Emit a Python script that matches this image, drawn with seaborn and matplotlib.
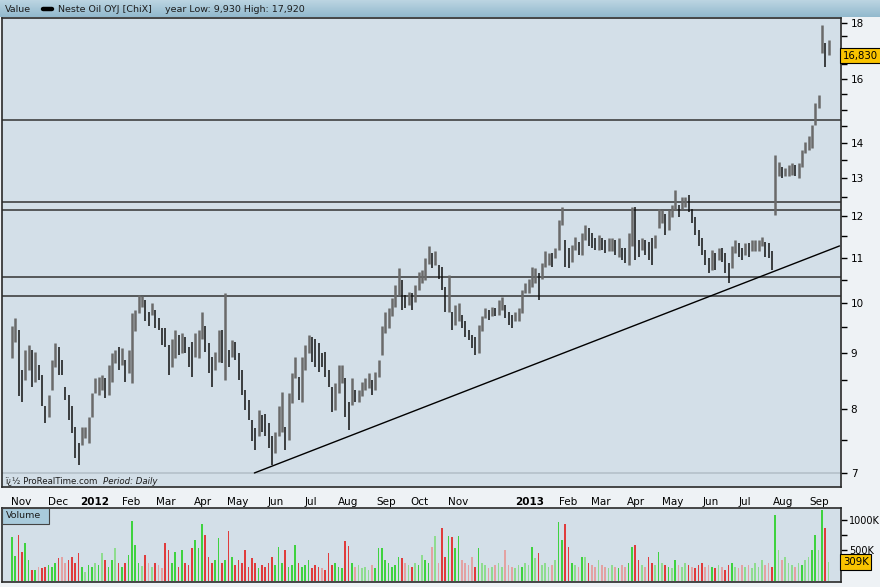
import numpy as np
import pandas as pd
import matplotlib
matplotlib.use("Agg")
import matplotlib.pyplot as plt
import seaborn as sns
from matplotlib.ticker import FixedLocator, NullFormatter, FixedFormatter
from matplotlib.patches import Rectangle
from matplotlib.colors import LinearSegmentedColormap

# ---------------- data (2-trading-day bars) ----------------
bar_high = [
    9.52, 9.68, 9.45, 8.69, 9.06, 9.16, 9.06, 9.03, 8.78, 8.60,
    8.05, 8.25, 8.87, 9.19, 9.12, 8.87, 8.39, 8.25, 8.05, 7.71,
    7.45, 7.71, 7.71, 7.88, 8.27, 8.54, 8.57, 8.60, 8.54, 8.78,
    9.00, 9.06, 9.12, 9.09, 8.87, 9.06, 9.79, 9.85, 10.17, 10.15,
    10.06, 9.82, 10.00, 9.85, 9.68, 9.48, 9.48, 9.16, 9.28, 9.45,
    9.35, 9.38, 9.32, 9.12, 9.22, 9.38, 9.45, 9.82, 9.52, 9.19,
    8.93, 9.03, 9.45, 9.45, 10.21, 9.06, 9.25, 9.22, 9.00, 8.69,
    8.33, 8.16, 7.82, 7.69, 7.99, 7.90, 7.93, 7.77, 7.56, 7.63,
    8.05, 8.30, 7.71, 8.27, 8.63, 8.93, 8.57, 8.93, 9.16, 9.35,
    9.32, 9.28, 9.19, 9.00, 9.03, 8.69, 8.39, 8.45, 8.78, 8.78,
    8.54, 8.13, 8.54, 8.33, 8.33, 8.48, 8.54, 8.63, 8.51, 8.66,
    8.87, 9.52, 9.82, 9.89, 10.10, 10.38, 10.76, 10.49, 10.17, 10.24,
    10.21, 10.38, 10.68, 10.72, 10.98, 11.26, 11.10, 11.14, 10.83, 10.79,
    10.35, 10.60, 9.82, 9.96, 9.99, 9.75, 9.62, 9.45, 9.35, 9.32,
    9.55, 9.72, 9.89, 9.85, 9.92, 9.89, 10.06, 10.13, 9.96, 9.82,
    9.75, 9.82, 9.89, 10.28, 10.42, 10.52, 10.79, 10.76, 10.65, 10.87,
    11.14, 11.10, 11.10, 11.22, 11.90, 12.24, 11.41, 11.22, 11.29, 11.49,
    11.37, 11.58, 11.78, 11.70, 11.58, 11.45, 11.53, 11.45, 11.41, 11.45,
    11.45, 11.41, 11.45, 11.22, 11.22, 11.58, 12.24, 12.24, 11.41, 11.45,
    11.41, 11.37, 11.45, 11.53, 12.19, 12.15, 12.06, 12.15, 12.28, 12.67,
    12.28, 12.50, 12.50, 12.54, 12.19, 11.98, 11.66, 11.45, 11.18, 10.98,
    11.18, 11.10, 11.22, 11.22, 11.10, 10.87, 11.26, 11.41, 11.33, 11.22,
    11.33, 11.33, 11.41, 11.41, 11.41, 11.49, 11.37, 11.33, 11.14, 13.64,
    13.45, 13.31, 13.27, 13.36, 13.41, 13.36, 13.41, 13.78, 14.03, 14.18,
    14.53, 15.20, 15.47, 17.92, 17.25, 17.36,
]
bar_low = [
    8.90, 9.22, 8.22, 8.13, 8.51, 8.69, 8.39, 8.48, 8.51, 8.05,
    7.77, 7.88, 8.33, 8.75, 8.60, 8.60, 8.16, 7.82, 7.61, 7.22,
    7.12, 7.43, 7.53, 7.45, 7.88, 8.27, 8.25, 8.33, 8.19, 8.25,
    8.48, 8.81, 8.69, 8.78, 8.48, 8.63, 8.45, 9.42, 9.79, 9.92,
    9.62, 9.52, 9.75, 9.48, 9.45, 9.16, 9.12, 8.60, 8.75, 8.90,
    8.97, 9.00, 9.00, 8.75, 8.57, 8.93, 8.90, 9.28, 9.03, 8.63,
    8.39, 8.69, 8.84, 8.81, 8.51, 8.75, 8.93, 8.87, 8.51, 8.25,
    7.99, 7.82, 7.48, 7.35, 7.56, 7.63, 7.56, 7.38, 7.12, 7.30,
    7.56, 7.63, 7.35, 7.50, 8.11, 8.54, 8.16, 8.13, 8.69, 9.00,
    8.84, 8.75, 8.66, 8.75, 8.57, 8.39, 7.96, 7.99, 8.27, 8.45,
    7.88, 7.66, 8.08, 8.13, 8.13, 8.22, 8.33, 8.36, 8.25, 8.33,
    8.57, 8.97, 9.38, 9.48, 9.72, 9.92, 10.17, 9.85, 9.89, 9.96,
    9.85, 10.03, 10.28, 10.42, 10.49, 10.86, 10.76, 10.83, 10.52, 10.28,
    9.82, 9.82, 9.45, 9.55, 9.62, 9.48, 9.32, 9.25, 9.09, 8.97,
    9.00, 9.42, 9.68, 9.65, 9.72, 9.72, 9.75, 9.85, 9.68, 9.55,
    9.48, 9.62, 9.62, 9.79, 10.21, 10.21, 10.35, 10.42, 10.06, 10.52,
    10.79, 10.83, 10.79, 10.98, 11.18, 11.78, 10.79, 10.76, 10.90, 11.18,
    11.06, 11.06, 11.41, 11.26, 11.22, 11.18, 11.18, 11.18, 11.10, 11.14,
    11.14, 11.06, 11.02, 10.94, 10.87, 10.83, 11.26, 10.94, 11.02, 11.18,
    11.06, 10.94, 10.83, 11.22, 11.70, 11.82, 11.53, 11.66, 11.98, 12.15,
    11.98, 12.19, 12.24, 12.11, 11.82, 11.53, 11.26, 11.06, 10.83, 10.65,
    10.72, 10.72, 10.94, 10.90, 10.65, 10.42, 10.76, 11.10, 11.02, 10.94,
    11.06, 11.02, 11.14, 11.14, 11.14, 11.26, 11.02, 10.98, 10.72, 12.02,
    13.05, 13.00, 13.05, 13.05, 13.08, 13.05, 13.00, 13.31, 13.69, 13.78,
    13.83, 14.53, 15.04, 16.89, 16.42, 16.83,
]
volume_k = [
    726, 400, 750, 480, 616, 340, 180, 176, 231, 204,
    231, 258, 231, 286, 368, 396, 286, 341, 396, 286,
    451, 231, 148, 258, 231, 286, 258, 451, 341, 231,
    341, 533, 286, 231, 286, 420, 985, 588, 300, 250,
    420, 286, 231, 300, 258, 204, 616, 506, 286, 478,
    231, 506, 300, 258, 533, 671, 533, 935, 750, 396,
    286, 341, 700, 286, 341, 825, 396, 258, 341, 286,
    506, 231, 368, 286, 204, 258, 231, 286, 396, 258,
    560, 286, 506, 231, 258, 588, 286, 231, 258, 341,
    204, 258, 231, 204, 176, 451, 258, 286, 231, 204,
    655, 575, 286, 231, 258, 204, 231, 176, 258, 204,
    533, 533, 341, 286, 231, 258, 396, 368, 286, 258,
    231, 286, 258, 423, 341, 286, 560, 737, 286, 863,
    396, 737, 726, 533, 737, 341, 286, 258, 396, 231,
    533, 286, 258, 204, 231, 258, 286, 231, 506, 258,
    231, 204, 258, 231, 286, 258, 550, 368, 451, 258,
    286, 231, 258, 341, 973, 671, 935, 550, 286, 258,
    231, 396, 396, 286, 258, 231, 341, 258, 231, 204,
    258, 231, 204, 258, 231, 286, 560, 588, 341, 258,
    231, 396, 286, 258, 478, 286, 258, 231, 204, 341,
    258, 231, 286, 258, 231, 204, 258, 286, 231, 258,
    231, 204, 258, 231, 176, 258, 286, 231, 204, 258,
    231, 258, 204, 286, 231, 341, 258, 286, 231, 1083,
    506, 341, 396, 286, 258, 231, 286, 258, 341, 396,
    506, 750, 506, 1166, 863, 309,
]
support_levels = [14.68, 12.37, 12.15, 10.55, 10.15]
trend_dates = ["2012-05-15", "2013-09-18"]
trend_prices = [7.0, 11.27]
last_price_text = "16,830"
last_volume = 309
price_major = [7, 8, 9, 10, 11, 12, 13, 14, 15, 16, 17, 18]
price_labels = ["7", "8", "9", "10", "11", "12", "13", "14", "", "16", "", "18"]
price_minor = [7.5, 8.5, 9.5, 10.5, 11.5, 12.5, 13.5, 14.5, 15.5, 16.5, 17.5]
vol_ticks = [500, 750, 1000]
vol_labels = ["500K", "", "1000K"]
first_day = "2011-10-24"
last_axis_day = "2013-09-30"
header_value = "Value"
header_name = "Neste Oil OYJ [ChiX]"
header_range = "year Low: 9,930 High: 17,920"

# ---------------- figure ----------------
sns.set_style("white")
plt.rcParams["font.family"] = ["DejaVu Sans"]

W, H = 880, 587
fig = plt.figure(figsize=(W / 100, H / 100), dpi=100)
fig.patch.set_facecolor("#eef2f5")


def fx(px):
    return px / W


def fy(py):
    return 1 - py / H


plot_bg = "#d3dfe8"
days = pd.bdate_range(first_day, last_axis_day)
n = len(bar_high)
xpos = np.arange(n) * 2 + 0.5
hi = np.array(bar_high)
lo = np.array(bar_low)
mid = (hi + lo) / 2
up = np.r_[True, mid[1:] >= mid[:-1]]

# header band
axh = fig.add_axes([0, fy(17), 1, 17 / H])
grad = np.linspace(0, 1, 50).reshape(-1, 1)
cm = LinearSegmentedColormap.from_list("hdr", ["#bcd5e2", "#92b9cd"])
axh.imshow(grad, aspect="auto", cmap=cm, extent=[0, 1, 0, 1])
axh.set_axis_off()
fig.text(fx(5), fy(9), header_value, fontsize=6.8, va="center", color="#1c1c1c")
fig.add_artist(plt.Line2D([fx(43), fx(52)], [fy(9), fy(9)], color="black", lw=3.2))
fig.text(fx(58), fy(9), header_name, fontsize=6.8, va="center", color="#1c1c1c")
fig.text(fx(165), fy(9), header_range, fontsize=6.8, va="center", color="#1c1c1c")

# main price axes
xl = (-5.4, 497.9)
ax = fig.add_axes([fx(2), fy(487), fx(839), 469 / H])
ax.set_facecolor(plot_bg)
ax.set_yscale("log")
ax.set_xlim(*xl)
ax.set_ylim(6.797, 18.18)

ax.axhline(7.0, color="#b4c0c9", lw=1.2, zorder=1)
for lvl in support_levels:
    ax.axhline(lvl, color="#333333", lw=1.1, zorder=2)

ax.vlines(xpos[up], lo[up], hi[up], color="#6a6a6a", lw=1.8, zorder=3)
ax.vlines(xpos[~up], lo[~up], hi[~up], color="#111111", lw=1.1, zorder=3)

trend_x = [days.get_loc(pd.Timestamp(d)) for d in trend_dates]
sns.lineplot(x=trend_x, y=trend_prices, ax=ax, color="black", lw=1.0, zorder=4)

ax.yaxis.tick_right()
ax.yaxis.set_major_locator(FixedLocator(price_major))
ax.yaxis.set_major_formatter(FixedFormatter(price_labels))
ax.yaxis.set_minor_locator(FixedLocator(price_minor))
ax.yaxis.set_minor_formatter(NullFormatter())
ax.tick_params(axis="y", which="both", direction="out", length=4, width=1,
               labelsize=7.5, pad=3, colors="black", right=True, left=False)

# month ticks
month_pos, month_lab = [], []
prev = None
for i, d in enumerate(days):
    key = (d.year, d.month)
    if key != prev and i > 0:
        month_pos.append(i)
        if d.month == 1:
            month_lab.append(str(d.year))
        elif d.year == 2012 and d.month == 12:
            month_lab.append("")
        else:
            month_lab.append(d.strftime("%b"))
    prev = key
keep = [(p, l) for p, l in zip(month_pos, month_lab) if p <= xl[1]]
ax.set_xticks([p for p, _ in keep])
ax.set_xticklabels([l for _, l in keep])
for t in ax.get_xticklabels():
    if t.get_text().isdigit():
        t.set_fontweight("bold")
        t.set_fontsize(8)
ax.tick_params(axis="x", direction="out", length=3, labelsize=7.5, pad=4, colors="black")
for s in ax.spines.values():
    s.set_color("#2a2a2a")
    s.set_linewidth(1.2)
ax.set_xlabel("")
ax.set_ylabel("")

fig.text(fx(5), fy(481), "ï¿½ ProRealTime.com", fontsize=6.2, va="center", color="#1c1c1c")
fig.text(fx(103), fy(481), "Period: Daily", fontsize=6.2, va="center", style="italic", color="#1c1c1c")

# last price tag
fig.text(fx(843), fy(55.5), last_price_text,
         fontsize=7.3, va="center", ha="left", color="black",
         bbox=dict(boxstyle="square,pad=0.25", fc="#f9c300", ec="black", lw=0.8))

# volume axes
axv = fig.add_axes([fx(2), fy(581.7), fx(839), 74 / H])
axv.set_facecolor(plot_bg)
axv.set_xlim(*xl)
axv.set_ylim(-16, 1205)
vol = np.array(volume_k, dtype=float)
rng = (hi - lo) / lo
strong = rng > 0.035
colors = []
for u, s in zip(up, strong):
    if u:
        colors.append("#3fd23f" if s else "#8fdc8f")
    else:
        colors.append("#e03c3c" if s else "#e3a2a2")
axv.bar(xpos, vol, width=1.0, color=colors, linewidth=0, bottom=0, zorder=2)
axv.yaxis.tick_right()
axv.set_yticks(vol_ticks)
axv.set_yticklabels(vol_labels)
axv.set_xticks([])
axv.tick_params(axis="y", direction="out", length=4, width=1, labelsize=7, pad=2, colors="black")
for s in axv.spines.values():
    s.set_color("#2a2a2a")
    s.set_linewidth(1.2)

# "Volume" tag and last volume tag
fig.add_artist(Rectangle((fx(2), fy(524)), fx(47), 16 / H, transform=fig.transFigure,
                         fc="#a9cbdc", ec="#444444", lw=0.8, zorder=5))
fig.text(fx(6), fy(516), "Volume", fontsize=6.8, va="center", color="#1c1c1c", zorder=6)
fig.text(fx(843), fy(562), f"{last_volume}K", fontsize=7.3, va="center", ha="left", color="black",
         bbox=dict(boxstyle="square,pad=0.25", fc="#f9c300", ec="black", lw=0.8))

fig.savefig("out.png", dpi=100, facecolor=fig.get_facecolor())
